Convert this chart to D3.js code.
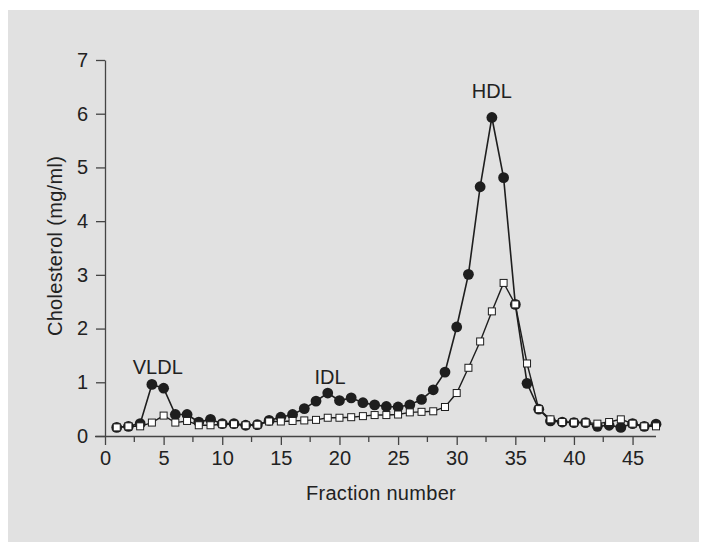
<!DOCTYPE html>
<html lang="en">

<head>
  <meta charset="UTF-8">
  <script src="https://cdn.jsdelivr.net/npm/d3@7"></script>
  <title>Cholesterol fractions</title>
  <style>
    body { margin: 0; background: #fff; }
    text { font-family: "Liberation Sans", Arial, sans-serif; fill: #222; }
  </style>
</head>

<body>
  <svg width="712" height="550" id="chart"></svg>
  <script>
    // fraction numbers 1..47
    let fractions = [1, 2, 3, 4, 5, 6, 7, 8, 9, 10, 11, 12, 13, 14, 15, 16, 17, 18, 19, 20, 21, 22, 23, 24,
      25, 26, 27, 28, 29, 30, 31, 32, 33, 34, 35, 36, 37, 38, 39, 40, 41, 42, 43, 44, 45, 46, 47];

    // filled circles
    let filledValues = [0.16, 0.18, 0.23, 0.96, 0.89, 0.40, 0.40, 0.26, 0.31, 0.23, 0.23, 0.20, 0.21, 0.29,
      0.35, 0.40, 0.51, 0.65, 0.80, 0.66, 0.71, 0.62, 0.58, 0.55, 0.54, 0.58, 0.68, 0.86, 1.19, 2.03, 3.01,
      4.64, 5.93, 4.81, 2.45, 0.98, 0.50, 0.28, 0.26, 0.25, 0.25, 0.18, 0.20, 0.16, 0.23, 0.18, 0.22];

    // open squares
    let openValues = [0.16, 0.18, 0.18, 0.25, 0.38, 0.25, 0.28, 0.20, 0.20, 0.22, 0.22, 0.20, 0.21, 0.27,
      0.27, 0.28, 0.29, 0.30, 0.34, 0.34, 0.35, 0.37, 0.39, 0.39, 0.40, 0.44, 0.45, 0.46, 0.54, 0.80, 1.27,
      1.76, 2.32, 2.85, 2.45, 1.35, 0.50, 0.31, 0.26, 0.25, 0.25, 0.23, 0.26, 0.31, 0.23, 0.18, 0.18];

    let xTicks = [0, 5, 10, 15, 20, 25, 30, 35, 40, 45];
    let xMinorTicks = [2.5, 7.5, 12.5, 17.5, 22.5, 27.5, 32.5, 37.5, 42.5];
    let yTicks = [0, 1, 2, 3, 4, 5, 6, 7];

    // peak labels: [text, fraction, value]
    let peakLabels = [["VLDL", 4.5, 1.0], ["IDL", 19.2, 0.82], ["HDL", 33, 6.15]];

    let svg = d3.select("#chart");

    // grey panel
    svg.append("rect")
      .attr("x", 8).attr("y", 10)
      .attr("width", 691).attr("height", 532)
      .attr("fill", "#e1e1e1");

    let diagram = svg.append("g").attr("id", "diagram");

    /* SCALES */
    let scaleX = d3.scaleLinear().domain([0, 47]).range([105, 656]);
    let scaleY = d3.scaleLinear().domain([0, 7]).range([436, 60]);

    /* AXES */
    let axisColor = "#444";
    let fontSize = "20px";

    let axisX = d3.axisBottom(scaleX).tickValues(xTicks).tickFormat(d3.format("d"))
      .tickSize(9).tickSizeOuter(0).tickPadding(6);
    let gx = diagram.append("g").attr("transform", "translate(0,436)").call(axisX);
    gx.select(".domain").attr("d", "M95,0.5H656");
    // minor ticks
    gx.selectAll(".minor")
      .data(xMinorTicks)
      .enter()
      .append("line")
      .attr("class", "minor")
      .attr("x1", d => scaleX(d)).attr("x2", d => scaleX(d))
      .attr("y1", 0).attr("y2", 6);

    let axisY = d3.axisLeft(scaleY).tickValues(yTicks).tickFormat(d3.format("d"))
      .tickSize(9).tickSizeOuter(0).tickPadding(8);
    let gy = diagram.append("g").attr("transform", "translate(105,0)").call(axisY);

    [gx, gy].forEach(g => {
      g.selectAll("path, line").attr("stroke", axisColor).attr("stroke-width", 1.3);
      g.selectAll("text").style("font-size", fontSize).attr("fill", "#222");
    });

    // axis titles
    svg.append("text")
      .text("Fraction number")
      .attr("x", 381).attr("y", 500)
      .attr("text-anchor", "middle")
      .style("font-size", fontSize)
      .style("letter-spacing", "0.3px");

    svg.append("text")
      .text("Cholesterol (mg/ml)")
      .attr("transform", "translate(62,246) rotate(-90)")
      .attr("text-anchor", "middle")
      .style("font-size", fontSize)
      .style("letter-spacing", "0.3px");

    /* LINES */
    let line = d3.line()
      .x(d => scaleX(d[0]))
      .y(d => scaleY(d[1]));

    let filled = fractions.map((f, i) => [f, filledValues[i]]);
    let open = fractions.map((f, i) => [f, openValues[i]]);

    diagram.append("path")
      .datum(filled)
      .attr("d", line)
      .attr("fill", "none")
      .attr("stroke", "#1e1e1e")
      .attr("stroke-width", 1.6);

    diagram.append("path")
      .datum(open)
      .attr("d", line)
      .attr("fill", "none")
      .attr("stroke", "#1e1e1e")
      .attr("stroke-width", 1.4);

    /* MARKERS */
    diagram.selectAll("circle.filled")
      .data(filled)
      .enter()
      .append("circle")
      .attr("class", "filled")
      .attr("cx", d => scaleX(d[0]))
      .attr("cy", d => scaleY(d[1]))
      .attr("r", 5.4)
      .attr("fill", "#1e1e1e");

    diagram.selectAll("rect.open")
      .data(open)
      .enter()
      .append("rect")
      .attr("class", "open")
      .attr("x", d => scaleX(d[0]) - 3.5)
      .attr("y", d => scaleY(d[1]) - 3.5)
      .attr("width", 7)
      .attr("height", 7)
      .attr("fill", "#fff")
      .attr("stroke", "#1e1e1e")
      .attr("stroke-width", 1);

    /* PEAK LABELS */
    diagram.selectAll("text.peak")
      .data(peakLabels)
      .enter()
      .append("text")
      .attr("class", "peak")
      .text(d => d[0])
      .attr("x", d => scaleX(d[1]))
      .attr("y", d => scaleY(d[2]) - 8)
      .attr("text-anchor", "middle")
      .style("font-size", fontSize);
  </script>
</body>

</html>
